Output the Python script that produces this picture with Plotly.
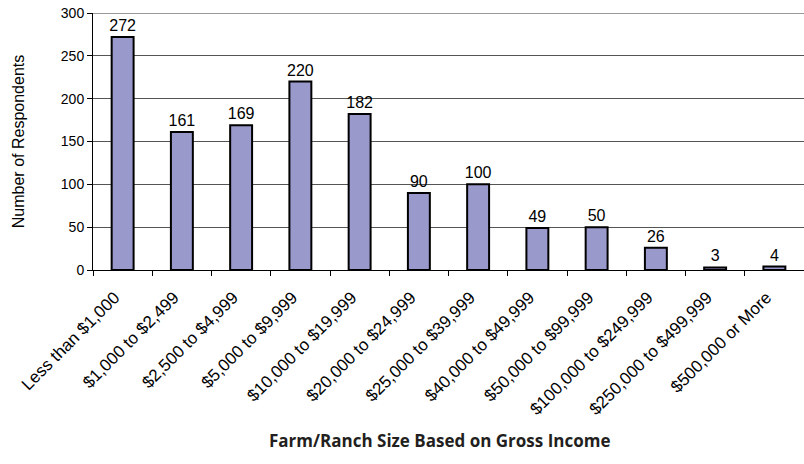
import plotly.graph_objects as go

categories = ["Less than $1,000", "$1,000 to $2,499", "$2,500 to $4,999", "$5,000 to $9,999",
              "$10,000 to $19,999", "$20,000 to $24,999", "$25,000 to $39,999", "$40,000 to $49,999",
              "$50,000 to $99,999", "$100,000 to $249,999", "$250,000 to $499,999", "$500,000 or More"]
values = [272, 161, 169, 220, 182, 90, 100, 49, 50, 26, 3, 4]
y_ticks = [0, 50, 100, 150, 200, 250, 300]

fig = go.Figure(go.Bar(
    x=categories, y=values,
    marker=dict(color="#9999cc", line=dict(color="black", width=2)),
    text=[str(v) for v in values], textposition="outside", cliponaxis=False,
    constraintext="none",
    textfont=dict(family="Liberation Sans, Arial", size=16, color="black"),
    width=0.37,
))

fig.update_layout(
    width=804, height=464,
    margin=dict(l=93, r=0, t=13, b=194),
    paper_bgcolor="white", plot_bgcolor="white",
    showlegend=False,
    font=dict(family="Liberation Sans, Arial", size=12, color="black"),
    xaxis=dict(
        automargin=False,
        tickangle=-45, tickson="boundaries", ticks="outside", ticklen=5, tickcolor="black",
        ticklabelstandoff=10, ticklabelshift=-8,
        showline=True, linecolor="black", linewidth=1, showgrid=False,
        tickfont=dict(size=17),
    ),
    yaxis=dict(
        automargin=False, ticklabeloverflow="allow",
        range=[0, 300], tickvals=y_ticks, ticks="outside", ticklen=5, tickcolor="black",
        showline=True, linecolor="black", linewidth=1,
        showgrid=True, gridcolor="#555555", gridwidth=1,
        zeroline=False, tickfont=dict(size=14),
        title=dict(text="Number of Respondents", font=dict(size=16), standoff=32),
    ),
    shapes=[dict(type="line", xref="paper", yref="y", x0=0, x1=1,
                 y0=y_ticks[-1], y1=y_ticks[-1], line=dict(color="#999999", width=2))],
    annotations=[dict(
        text="<b>Farm/Ranch Size Based on Gross Income</b>", x=0.488, xref="paper",
        y=-(441 - 270) / 257, yref="paper", yanchor="middle", showarrow=False,
        font=dict(family="Open Sans", size=17, color="#231f20"),
    )],
)

fig.write_html("out.html", config={"displayModeBar": False},
               post_script="document.body.style.margin='0';document.body.style.overflow='hidden';")
